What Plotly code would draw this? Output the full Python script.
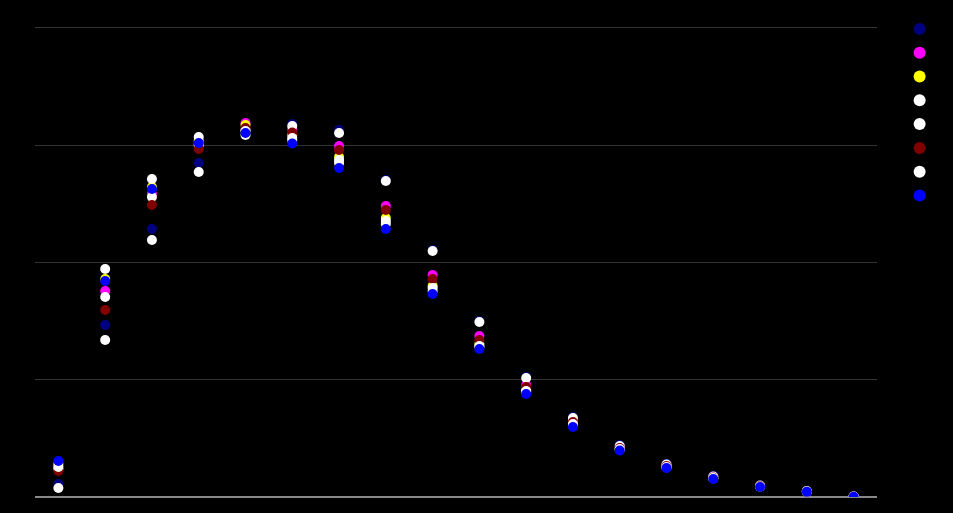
import plotly.graph_objects as go

categories = list(range(18))

navy = [0.111, 1.466, 2.285, 2.847, 3.137, 3.180, 3.129, 2.702, 2.106, 1.500,
        1.023, 0.682, 0.443, 0.281, 0.179, 0.098, 0.051, 0.004]
magenta = [0.264, 1.756, 2.583, 3.009, 3.188, 3.137, 2.992, 2.481, 1.893, 1.373,
           0.955, 0.648, 0.426, 0.269, 0.171, 0.094, 0.047, 0.004]
yellow = [0.281, 1.858, 2.643, 3.035, 3.171, 3.086, 2.899, 2.379, 1.799, 1.304,
          0.912, 0.631, 0.413, 0.260, 0.162, 0.090, 0.047, 0.003]
white_a = [0.077, 1.338, 2.191, 2.771, 3.129, 3.163, 3.103, 2.694, 2.097, 1.492,
           1.014, 0.673, 0.435, 0.277, 0.175, 0.098, 0.051, 0.004]
white_b = [0.239, 1.705, 2.558, 3.001, 3.086, 3.043, 2.847, 2.327, 1.756, 1.279,
           0.895, 0.614, 0.405, 0.251, 0.158, 0.088, 0.045, 0.003]
darkred = [0.222, 1.594, 2.489, 2.967, 3.146, 3.107, 2.958, 2.447, 1.858, 1.338,
           0.938, 0.639, 0.418, 0.264, 0.166, 0.094, 0.047, 0.003]
white_c = [0.256, 1.944, 2.711, 3.069, 3.120, 3.061, 2.873, 2.353, 1.782, 1.287,
           0.904, 0.622, 0.409, 0.256, 0.162, 0.090, 0.047, 0.003]
blue = [0.307, 1.841, 2.626, 3.018, 3.103, 3.014, 2.805, 2.285, 1.731, 1.262,
        0.878, 0.597, 0.396, 0.247, 0.153, 0.085, 0.044, 0.002]

series = [navy, magenta, yellow, white_a, white_b, darkred, white_c, blue]
colors = ["#000080", "#ff00ff", "#ffff00", "#ffffff", "#ffffff", "#800000", "#ffffff", "#0000ff"]

fig = go.Figure()
for vals, col in zip(series, colors):
    fig.add_trace(go.Scatter(
        x=categories, y=vals, mode="markers", name="",
        marker=dict(color=col, size=10),
    ))

fig.update_layout(
    width=953, height=513,
    paper_bgcolor="#000000", plot_bgcolor="#000000",
    margin=dict(l=35, r=76, t=12, b=16),
    showlegend=True,
    legend=dict(xref="container", x=0.944, y=1.0, yanchor="top", xanchor="left",
                font=dict(color="#000000", size=16), itemsizing="constant",
                bgcolor="rgba(0,0,0,0)"),
    xaxis=dict(range=[-0.5, 17.5], showgrid=False, showticklabels=False,
               zeroline=False, showline=False, ticks=""),
    yaxis=dict(range=[0, 4.135], showticklabels=False, gridcolor="#333333",
               gridwidth=1, zeroline=True, zerolinecolor="#888888",
               zerolinewidth=2, dtick=1, ticks=""),
)

fig.write_html(
    "out.html",
    config={"displayModeBar": False},
    post_script="document.body.style.margin='0';document.body.style.background='#000';",
)
